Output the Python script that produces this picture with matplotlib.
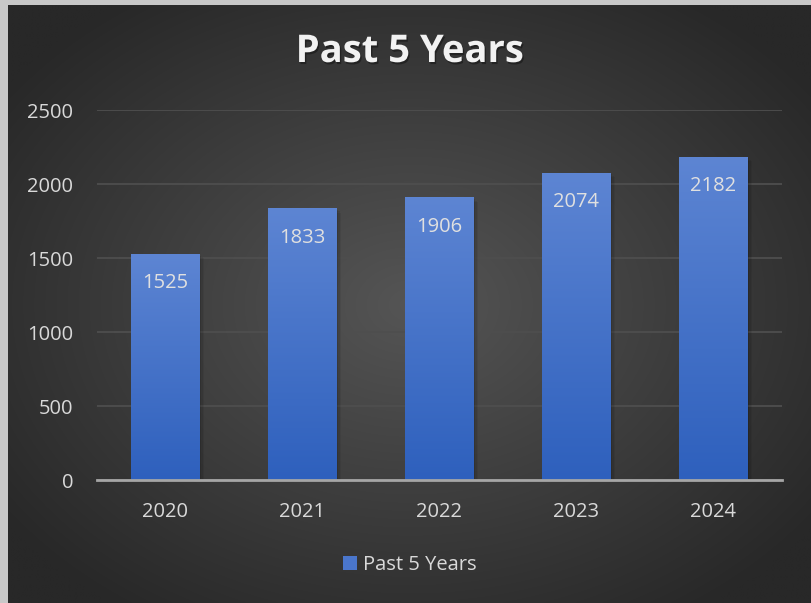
import numpy as np
import matplotlib
matplotlib.use("Agg")
import matplotlib.pyplot as plt
from matplotlib.patches import Patch
import matplotlib.patheffects as pe

years = ["2020", "2021", "2022", "2023", "2024"]
values = [1525, 1833, 1906, 2074, 2182]
series_name = "Past 5 Years"
title = "Past 5 Years"

W, H = 812, 603
fig = plt.figure(figsize=(W / 100, H / 100), dpi=100)
fig.patch.set_facecolor("#c8c8c8")

# background panel with radial gradient
bg = fig.add_axes([8 / W, 0, (W - 8) / W, (H - 5) / H])
bg.set_axis_off()
ny, nx = 300, 400
yy, xx = np.mgrid[0:ny, 0:nx]
cx, cy = nx * 0.5, ny * 0.5
r = np.sqrt(((xx - cx) / (nx * 0.62)) ** 2 + ((yy - cy) / (ny * 0.62)) ** 2)
r = np.clip(r, 0, 1)
inner = np.array([0x55, 0x55, 0x55]) / 255
outer = np.array([0x28, 0x28, 0x28]) / 255
img = inner[None, None, :] * (1 - r[..., None]) + outer[None, None, :] * r[..., None]
bg.imshow(img, aspect="auto", extent=[0, 1, 0, 1], interpolation="bilinear")
bg.set_xlim(0, 1)
bg.set_ylim(0, 1)

ax = fig.add_axes([97 / W, 123 / H, 685 / W, 370 / H])
ax.set_facecolor("none")
x = np.arange(len(years))
bars = ax.bar(x, values, width=0.5, color="none", edgecolor="none", zorder=3)

grad = np.linspace(0, 1, 256)[:, None]
top_c = np.array([0x5d, 0x85, 0xd3]) / 255
bot_c = np.array([0x2e, 0x60, 0xbd]) / 255
gimg = top_c[None, None, :] * (1 - grad[..., None]) + bot_c[None, None, :] * grad[..., None]
gimg = np.repeat(gimg, 2, axis=1)
for b in bars:
    x0, w, h = b.get_x(), b.get_width(), b.get_height()
    for k, a in [(3, 0.06), (2, 0.08), (1, 0.1)]:
        shadow = plt.Rectangle((x0, 0), w, h, facecolor="none", edgecolor="none", zorder=2,
                               path_effects=[pe.SimplePatchShadow(offset=(k, -k), alpha=a, shadow_rgbFace="black")])
        ax.add_patch(shadow)
    ax.imshow(gimg, extent=[x0, x0 + w, 0, h], aspect="auto", zorder=3, interpolation="bilinear")

ax.set_xlim(-0.5, len(years) - 0.5)
ax.set_ylim(0, 2500)
ax.set_yticks([0, 500, 1000, 1500, 2000, 2500])
ax.set_xticks(x)
ax.set_xticklabels(years)
ax.grid(axis="y", color="#4e4e4e", linewidth=1.3, zorder=1)
ax.set_axisbelow(True)
for s in ["top", "right", "left"]:
    ax.spines[s].set_visible(False)
ax.spines["bottom"].set_color("#a6a6a6")
ax.spines["bottom"].set_linewidth(2)
ax.spines["bottom"].set_zorder(4)
ax.tick_params(axis="both", length=0, labelcolor="#d9d9d9", labelsize=14.5)
ax.tick_params(axis="y", pad=17)
ax.tick_params(axis="x", pad=16)
for lab in ax.get_xticklabels() + ax.get_yticklabels():
    lab.set_fontfamily("Open Sans")

for b, v in zip(bars, values):
    ax.annotate(str(v), (b.get_x() + b.get_width() / 2, b.get_height()),
                xytext=(0, -21), textcoords="offset points", ha="center", va="center",
                color="#e0e0e0", fontsize=14.5, family="Open Sans", zorder=5)

fig.text(410 / W, 1 - 52 / H, title, ha="center", va="center", color="#f2f2f2",
         fontsize=27.5, fontweight="bold", family="Open Sans",
         path_effects=[pe.withSimplePatchShadow(offset=(1, -1.5), alpha=0.35, shadow_rgbFace="black")])

leg = fig.legend(handles=[Patch(facecolor="#4a76cc", edgecolor="none", label=series_name)],
                 loc="center", bbox_to_anchor=(410 / W, 1 - 565 / H), frameon=False,
                 handlelength=0.7, handleheight=0.7, handletextpad=0.3,
                 prop={"family": "Open Sans", "size": 14.5})
for t in leg.get_texts():
    t.set_color("#d9d9d9")

fig.savefig("out.png", dpi=100, facecolor=fig.get_facecolor())
